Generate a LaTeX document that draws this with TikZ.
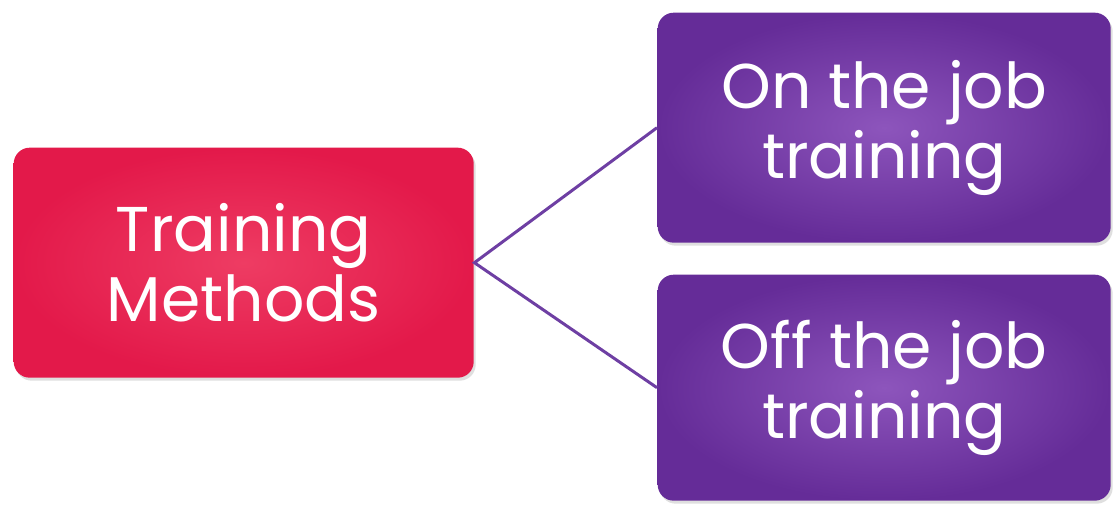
\documentclass[tikz,border=0pt]{standalone}
\usepackage{fontspec}
\setsansfont{Poppins}
\usetikzlibrary{positioning, shadows}
\definecolor{methRed}{HTML}{E3194A}
\definecolor{methRedLt}{HTML}{EE3C63}
\definecolor{jobPurple}{HTML}{652C98}
\definecolor{jobPurpleLt}{HTML}{8D55BC}
\definecolor{linkPurple}{HTML}{6E3FA3}

\begin{document}
\begin{tikzpicture}[
  font=\sffamily,
  box/.style={rectangle, rounded corners=1.6mm, text=white, align=center,
              font=\sffamily\fontsize{18}{20}\selectfont, anchor=north west,
              drop shadow={opacity=0.25, shadow xshift=0.2mm, shadow yshift=-0.3mm}},
  redbox/.style={box, inner color=methRedLt, outer color=methRed},
  purplebox/.style={box, inner color=jobPurpleLt, outer color=jobPurple},
  link/.style={draw=linkPurple, line width=0.85pt},
]
\useasboundingbox (0,0) rectangle (11.13,-5.06);

% ===== root ================================================================
\node[redbox, minimum width=4.6cm, minimum height=2.3cm] (methods) at (0.13,-1.47)
  {Training\\Methods};

% ===== branches ============================================================
\node[purplebox, minimum width=4.53cm, minimum height=2.3cm] (onjob) at (6.57,-0.12)
  {On the job\\training};
\node[purplebox, minimum width=4.53cm, minimum height=2.26cm] (offjob) at (6.57,-2.74)
  {Off the job\\training};

% ===== links ===============================================================
\draw[link] (onjob.west) -- (methods.east) -- (offjob.west);

\end{tikzpicture}
\end{document}
